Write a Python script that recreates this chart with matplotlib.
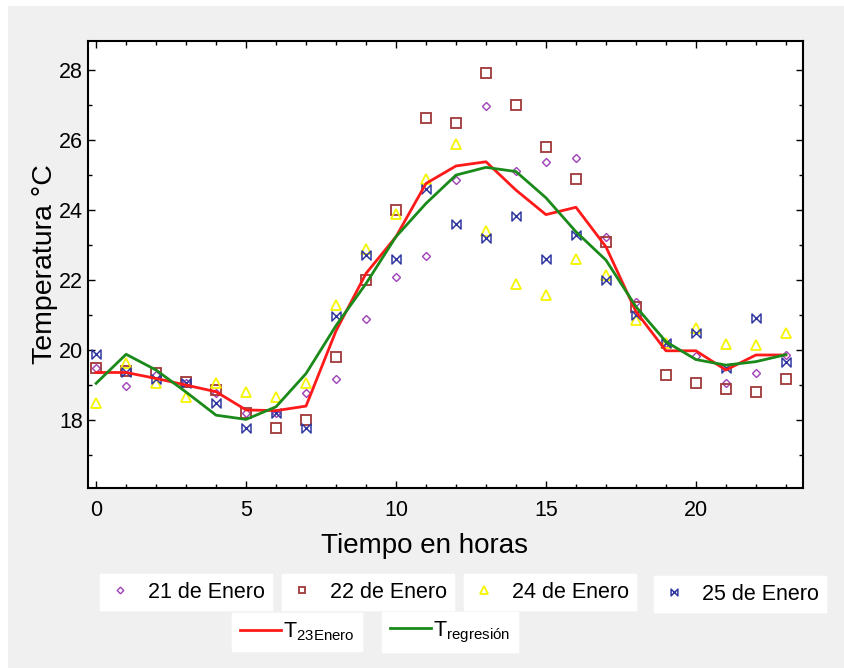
import matplotlib
matplotlib.use('Agg')
import matplotlib.pyplot as plt
from matplotlib.path import Path
from matplotlib.lines import Line2D
from matplotlib.patches import Rectangle
from matplotlib.ticker import MultipleLocator

plt.rcParams['font.family'] = ['Liberation Sans', 'DejaVu Sans']
plt.rcParams['mathtext.fontset'] = 'custom'
plt.rcParams['mathtext.rm'] = 'Liberation Sans'
plt.rcParams['mathtext.it'] = 'Liberation Sans'

# hours of the day
horas = list(range(24))

# measured temperatures (degC)
t_21 = [19.5, 18.97, 19.3, 19.05, 18.78, 18.2, 18.2, 18.78, 19.16, 20.88, 22.08, 22.69,
        24.86, 26.98, 25.11, 25.37, 25.5, 23.22, 21.38, 20.2, 19.82, 19.05, 19.35, 19.86]
t_22 = [19.48, 19.4, 19.35, 19.1, 18.86, 18.19, 17.76, 18.0, 19.79, 22.0, 24.0, 26.62,
        26.5, 27.93, 27.0, 25.81, 24.9, 23.1, 21.24, 19.3, 19.07, 18.88, 18.81, 19.17]
t_24 = [18.48, 19.62, 19.05, 18.67, 19.07, 18.79, 18.67, 19.05, 21.29, 22.9, 23.89, 24.9,
        25.89, 23.41, 21.89, 21.57, 22.59, 22.14, 20.86, 20.2, 20.62, 20.17, 20.14, 20.48]
t_25 = [19.88, 19.38, 19.17, 19.05, 18.49, 17.76, 18.19, 17.76, 20.97, 22.71, 22.6, 24.6,
        23.6, 23.21, 23.84, 22.59, 23.29, 22.0, 21.0, 20.19, 20.5, 19.5, 20.92, 19.67]
t_23 = [19.36, 19.36, 19.19, 19.0, 18.81, 18.29, 18.27, 18.4, 20.55, 22.19, 23.24, 24.76,
        25.26, 25.38, 24.57, 23.87, 24.08, 22.95, 21.1, 19.98, 19.98, 19.43, 19.86, 19.86]
t_reg = [19.05, 19.88, 19.43, 18.8, 18.14, 18.02, 18.38, 19.33, 20.7, 21.9, 23.24, 24.19,
         25.0, 25.22, 25.1, 24.35, 23.38, 22.57, 21.24, 20.24, 19.73, 19.57, 19.67, 19.87]

# bowtie marker
bowtie = Path([(-1, 1), (-1, -1), (1, 1), (1, -1), (-1, 1)],
              [Path.MOVETO, Path.LINETO, Path.LINETO, Path.LINETO, Path.CLOSEPOLY])

fig = plt.figure(figsize=(8.44, 6.68), dpi=100, facecolor='white')
W, H = 844.0, 668.0
fig.patches.append(Rectangle((8 / W, 0), 1, 1 - 6 / H, transform=fig.transFigure,
                             facecolor='#f0f0f0', edgecolor='none', zorder=-10))

ax = fig.add_axes([88 / W, 1 - 488 / H, 715 / W, 447 / H])
ax.set_facecolor('white')

m21, = ax.plot(horas, t_21, linestyle='none', marker='D', markersize=4.5,
               markerfacecolor='none', markeredgecolor='#a040b8', markeredgewidth=1.0)
m22, = ax.plot(horas, t_22, linestyle='none', marker='s', markersize=6.5,
               markerfacecolor='none', markeredgecolor='#a03838', markeredgewidth=1.3)
m24, = ax.plot(horas, t_24, linestyle='none', marker='^', markersize=7,
               markerfacecolor='none', markeredgecolor='#f5f500', markeredgewidth=1.3)
m25, = ax.plot(horas, t_25, linestyle='none', marker=bowtie, markersize=6.5,
               markerfacecolor='none', markeredgecolor='#3038a0', markeredgewidth=1.1)
l23, = ax.plot(horas, t_23, color='#ff1a1a', linewidth=2.0)
lreg, = ax.plot(horas, t_reg, color='#1a8a1a', linewidth=2.0)

ax.set_xlim(-0.27, 23.57)
ax.set_ylim(16.06, 28.83)
ax.xaxis.set_major_locator(MultipleLocator(5))
ax.xaxis.set_minor_locator(MultipleLocator(1))
ax.yaxis.set_major_locator(MultipleLocator(2))
ax.yaxis.set_minor_locator(MultipleLocator(1))
ax.tick_params(which='both', direction='in', top=True, right=True, labelsize=15.5,
               colors='black', width=1.0)
ax.tick_params(which='major', length=5)
ax.tick_params(which='minor', length=3)
ax.tick_params(axis='x', pad=9)
for s in ax.spines.values():
    s.set_linewidth(1.5)

ax.set_xlabel('Tiempo en horas', fontsize=20, labelpad=8, x=0.471)
ax.set_ylabel('Temperatura °C', fontsize=20.5, labelpad=1)

# one white box per legend entry
entries = [
    (m21, '21 de Enero', 186, 592),
    (m22, '22 de Enero', 368, 592),
    (m24, '24 de Enero', 550, 592),
    (m25, '25 de Enero', 740, 594),
    (l23, r'T$_{\mathrm{23Enero}}$', 297, 632),
    (lreg, r'T$_{\mathrm{regresión}}$', 450, 632),
]
for h, lab, cx, cy in entries:
    is_line = isinstance(h, Line2D) and h.get_linestyle() != 'None'
    leg = fig.legend([h], [lab], loc='center', bbox_to_anchor=(cx / W, 1 - cy / H),
                     fontsize=15.5, frameon=True, fancybox=False, framealpha=1,
                     facecolor='white', edgecolor='white', markerscale=0.75,
                     handlelength=1.9 if is_line else 1.2, handletextpad=0.1 if is_line else 0.7,
                     borderpad=0.35, borderaxespad=0)
    fig.add_artist(leg)

fig.savefig('out.png', dpi=100, facecolor=fig.get_facecolor())
